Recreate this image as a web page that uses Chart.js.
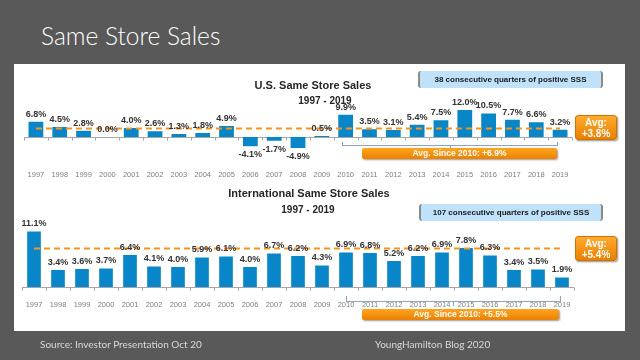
<!DOCTYPE html>
<html>
<head>
<meta charset="utf-8">
<script src="https://cdn.jsdelivr.net/npm/chart.js@4.4.0/dist/chart.umd.min.js"></script>
<style>
html, body { margin: 0; padding: 0; }
body { width: 640px; height: 360px; background: #595959; position: relative; overflow: hidden;
       font-family: "Liberation Sans", Arial, sans-serif; }
.abs { position: absolute; }
#panel { left: 14px; top: 64px; width: 611px; height: 267px; background: #fff; }
.wrap { position: absolute; left: 0; width: 640px; height: 180px; }
.ctitle { position: absolute; width: 260px; text-align: center; font-weight: bold; color: #262626; white-space: nowrap; }
.bluebox { position: absolute; height: 17px; line-height: 17px; background: #bfe1fa; text-align: center;
           font-weight: bold; font-size: 8px; color: #1a1a1a; border-left: 2px solid #8a8a8a; border-right: 2px solid #8a8a8a;
           border-radius: 3px; }
.avgbox { position: absolute; width: 42px; height: 25px; border-radius: 3px; box-sizing: border-box;
          background: linear-gradient(#ffab2e, #ea7f00); border: 1px solid #d27300; color: #fff;
          font-weight: bold; font-size: 10px; line-height: 11px; text-align: center; padding-top: 1px;
          box-shadow: 1px 1px 2px rgba(0,0,0,0.45); }
.sincebox { position: absolute; height: 11px; line-height: 11px; border-radius: 2px;
            background: linear-gradient(#ffa51f, #ec8000); color: #fff; font-weight: bold; font-size: 8.5px;
            text-align: center; box-shadow: 1px 1px 2px rgba(0,0,0,0.4); }
.bracket { position: absolute; border: 1px solid #8fa3bb; border-top: none; }
.btick { position: absolute; width: 1px; background: #8fa3bb; }
.foot { position: absolute; top: 338px; font-size: 10px; color: #d9d9d9; font-family: Lato, "Open Sans", sans-serif; }
</style>
</head>
<body>
<div id="panel" class="abs"></div>
<div class="abs" style="left:41px;top:21px;font-family:Lato,'Open Sans',sans-serif;font-weight:300;font-size:24.5px;color:#fff;">Same Store Sales</div>

<div class="wrap" style="top:0"><canvas id="usChart"></canvas></div>
<div class="wrap" style="top:180px"><canvas id="intlChart"></canvas></div>

<div class="ctitle" style="left:183px;top:79px;font-size:11px;">U.S. Same Store Sales</div>
<div class="ctitle" style="left:195px;top:95px;font-size:10px;">1997 - 2019</div>
<div class="bluebox" style="left:418px;top:71px;width:181px;">38 consecutive quarters of positive SSS</div>
<div class="avgbox" style="left:575px;top:115px;">Avg:<br>+3.8%</div>
<div class="bracket" style="left:342px;top:142px;width:214px;height:3px;"></div>
<div class="btick" style="left:450px;top:146px;height:2px;"></div>
<div class="sincebox" style="left:362px;top:148px;width:195px;">Avg. Since 2010: +6.9%</div>

<div class="ctitle" style="left:179px;top:187px;font-size:11px;">International Same Store Sales</div>
<div class="ctitle" style="left:178px;top:204px;font-size:10px;">1997 - 2019</div>
<div class="bluebox" style="left:419px;top:204px;width:180px;">107 consecutive quarters of positive SSS</div>
<div class="avgbox" style="left:575px;top:236px;">Avg:<br>+5.4%</div>
<div class="bracket" style="left:346px;top:296px;width:213px;height:5px;"></div>
<div class="btick" style="left:453px;top:302px;height:4px;"></div>
<div class="sincebox" style="left:362px;top:309px;width:197px;">Avg. Since 2010: +5.5%</div>

<div class="foot" style="left:40px;">Source: Investor Presentation Oct 20</div>
<div class="foot" style="left:375px;">YoungHamilton Blog 2020</div>

<script>
// years on the x axis (same for both charts)
const years = ['1997', '1998', '1999', '2000', '2001', '2002', '2003', '2004', '2005', '2006', '2007', '2008',
               '2009', '2010', '2011', '2012', '2013', '2014', '2015', '2016', '2017', '2018', '2019'];

// U.S. same store sales growth, %
const usSales = [6.8, 4.5, 2.8, 0.0, 4.0, 2.6, 1.3, 1.8, 4.9, -4.1, -1.7, -4.9,
                 0.5, 9.9, 3.5, 3.1, 5.4, 7.5, 12.0, 10.5, 7.7, 6.6, 3.2];
// International same store sales growth, %
const intlSales = [11.1, 3.4, 3.6, 3.7, 6.4, 4.1, 4.0, 5.9, 6.1, 4.0, 6.7, 6.2,
                   4.3, 6.9, 6.8, 5.2, 6.2, 6.9, 7.8, 6.3, 3.4, 3.5, 1.9];

// level of the dashed average line, as it sits in the picture
const usAvgLine = 3.8;
const intlAvgLine = 7.7;

const BAR_BLUE = '#0986c7';
const AVG_ORANGE = '#f7941d';

// zero line, small ticks and value labels
const barDecor = {
  id: 'barDecor',
  beforeDatasetsDraw(chart) {
    const { ctx, chartArea, scales: { x, y } } = chart;
    const y0 = Math.round(y.getPixelForValue(0)) + 0.5;
    ctx.save();
    ctx.strokeStyle = '#a6a6a6';
    ctx.lineWidth = 1;
    ctx.beginPath();
    ctx.moveTo(chartArea.left, y0);
    ctx.lineTo(chartArea.right, y0);
    for (let i = 0; i <= years.length; i++) {
      let px;
      if (i === 0) px = chartArea.left;
      else if (i === years.length) px = chartArea.right;
      else px = (x.getPixelForValue(i - 1) + x.getPixelForValue(i)) / 2;
      px = Math.round(px) + 0.5;
      ctx.moveTo(px, y0);
      ctx.lineTo(px, y0 + 3);
    }
    ctx.stroke();
    ctx.restore();
  },
  afterDatasetsDraw(chart) {
    const { ctx } = chart;
    const meta = chart.getDatasetMeta(0);
    const values = chart.data.datasets[0].data;
    ctx.save();
    ctx.font = 'bold 9px "Liberation Sans", Arial, sans-serif';
    ctx.fillStyle = '#333333';
    ctx.textAlign = 'center';
    meta.data.forEach((bar, i) => {
      const v = values[i];
      const txt = v.toFixed(1) + '%';
      if (v < 0) {
        ctx.textBaseline = 'top';
        ctx.fillText(txt, bar.x, bar.y + 4);
      } else {
        ctx.textBaseline = 'bottom';
        ctx.fillText(txt, bar.x, bar.y - 3);
      }
    });
    ctx.restore();
  }
};

function makeChart(id, values, avgLevel, opts) {
  return new Chart(document.getElementById(id), {
    type: 'bar',
    data: {
      labels: years,
      datasets: [{
        type: 'bar',
        data: values,
        backgroundColor: BAR_BLUE,
        categoryPercentage: 1,
        barPercentage: opts.barPct,
        order: 2
      }, {
        type: 'line',
        data: years.map(() => avgLevel),
        borderColor: AVG_ORANGE,
        borderWidth: 2,
        borderDash: [6, 4],
        pointRadius: 0,
        fill: false,
        order: 1
      }]
    },
    options: {
      responsive: true,
      maintainAspectRatio: false,
      animation: false,
      layout: { padding: opts.padding },
      plugins: { legend: { display: false }, tooltip: { enabled: false } },
      scales: {
        x: {
          grid: { display: false },
          border: { display: false },
          ticks: {
            color: '#808080',
            font: { family: '"Liberation Sans", Arial, sans-serif', size: 7.5 },
            padding: opts.tickPad,
            maxRotation: 0,
            autoSkip: false
          },
          afterFit: s => { s.height = opts.axisH; }
        },
        y: { display: false, min: opts.min, max: opts.max }
      }
    },
    plugins: [barDecor]
  });
}

makeChart('usChart', usSales, usAvgLine, {
  barPct: 0.62, min: -5, max: 13,
  padding: { left: 24, right: 68, top: 107.75, bottom: 0 },
  axisH: 31.75, tickPad: 14
});

makeChart('intlChart', intlSales, intlAvgLine, {
  barPct: 0.57, min: 0, max: 12,
  padding: { left: 22, right: 66, top: 47, bottom: 0 },
  axisH: 73, tickPad: 5
});
</script>
</body>
</html>
